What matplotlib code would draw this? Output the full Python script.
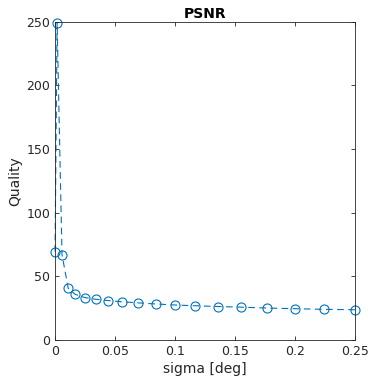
import matplotlib
matplotlib.use("Agg")
import matplotlib.pyplot as plt

sigma = [0.0, 0.0017, 0.0058, 0.011, 0.017, 0.025, 0.034, 0.044, 0.056, 0.069,
         0.084, 0.100, 0.117, 0.136, 0.155, 0.177, 0.200, 0.224, 0.250]
quality = [69.5, 249.0, 67.0, 40.5, 35.8, 33.3, 32.0, 31.0, 30.0, 29.2,
           28.3, 27.5, 26.9, 26.3, 25.8, 25.1, 24.6, 24.1, 23.8]

xticks = [0, 0.05, 0.1, 0.15, 0.2, 0.25]
xticklabels = ["0", "0.05", "0.1", "0.15", "0.2", "0.25"]
yticks = [0, 50, 100, 150, 200, 250]

plt.rcParams['font.family'] = ['DejaVu Sans']
fig = plt.figure(figsize=(3.72, 3.87), dpi=100)
ax = fig.add_axes([0.148, 0.1214, 0.806, 0.8226])
ax.plot(sigma, quality, linestyle=(0, (6, 4)), color='#0072BD', linewidth=0.8,
        marker='o', markersize=6.5, markerfacecolor='none', markeredgecolor='#0072BD',
        markeredgewidth=0.8, clip_on=False)
ax.set_xlim(0, 0.25)
ax.set_ylim(0, 250)
ax.set_xticks(xticks)
ax.set_xticklabels(xticklabels)
ax.set_yticks(yticks)
ax.tick_params(direction='in', top=True, right=True, length=3, width=0.6,
               labelsize=9, colors='#262626')
for s in ax.spines.values():
    s.set_linewidth(0.6)
    s.set_color('#262626')
ax.set_xlabel('sigma [deg]', fontsize=10, color='#262626', labelpad=3)
ax.set_ylabel('Quality', fontsize=10, color='#262626', labelpad=3)
ax.set_title('PSNR', fontsize=10, fontweight='bold', pad=3)
fig.savefig('out.png', dpi=100)
